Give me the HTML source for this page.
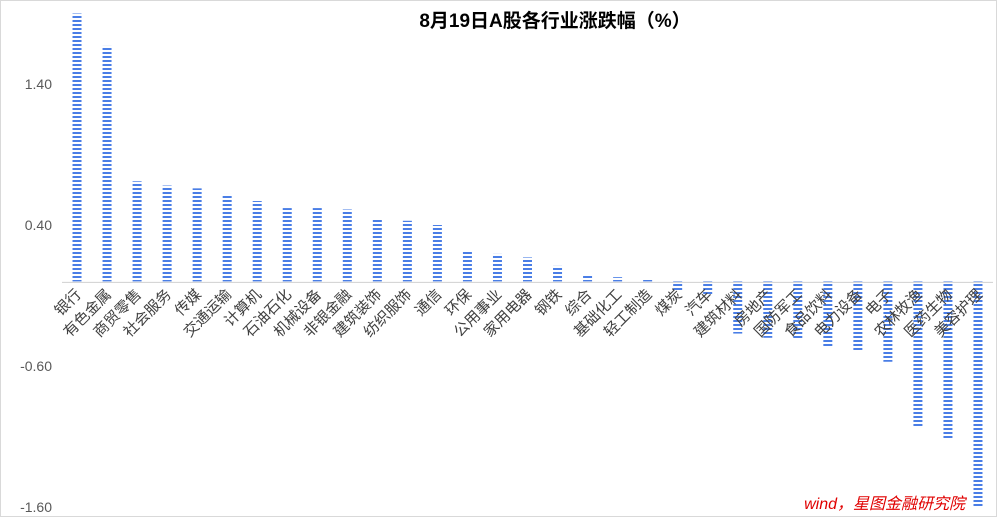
<!DOCTYPE html>
<html><head><meta charset="utf-8">
<style>
html,body{margin:0;padding:0;background:#fff;}
#wrap{position:relative;width:997px;height:517px;overflow:hidden;}
svg text{font-family:"Liberation Sans","Noto Sans CJK SC",sans-serif;}
</style></head>
<body>
<div id="wrap">
<svg id="chart" width="997" height="517" xmlns="http://www.w3.org/2000/svg">
<defs>
<pattern id="stripe" width="10" height="4" patternUnits="userSpaceOnUse">
<rect x="0" y="0" width="10" height="2" fill="#4a7ee6"/>
</pattern>
</defs>
<rect x="0.5" y="0.5" width="996" height="516" fill="#fff" stroke="#d9d9d9"/>
<text x="555" y="27" text-anchor="middle" font-size="19" font-weight="bold" fill="#000">8月19日A股各行业涨跌幅（%）</text>
<g id="yaxis"></g>
<g id="bars"></g>
<g id="xlabels"></g>
<line id="baseline" stroke="#d0d0d0" stroke-width="1"/>
<text x="965" y="509" text-anchor="end" font-size="16" font-style="italic" fill="#e00000">wind，星图金融研究院</text>
</svg>
</div>
<script>
const categories=["银行","有色金属","商贸零售","社会服务","传媒","交通运输","计算机","石油石化","机械设备","非银金融","建筑装饰","纺织服饰","通信","环保","公用事业","家用电器","钢铁","综合","基础化工","轻工制造","煤炭","汽车","建筑材料","房地产","国防军工","食品饮料","电力设备","电子","农林牧渔","医药生物","美容护理"];
const values=[1.90,1.67,0.71,0.68,0.66,0.62,0.57,0.52,0.52,0.51,0.44,0.43,0.40,0.21,0.195,0.17,0.11,0.04,0.03,0.01,-0.07,-0.10,-0.37,-0.40,-0.41,-0.46,-0.49,-0.57,-1.03,-1.12,-1.60];
const yTicks=[1.40,0.40,-0.60,-1.60];
const tickLabels=["1.40","0.40","-0.60","-1.60"];

const NS="http://www.w3.org/2000/svg";
const y=v=>281.4-v*141;
const x0=62,x1=993,step=(x1-x0)/categories.length;
const xc=i=>x0+step*(i+0.5);
const ya=document.getElementById('yaxis');
yTicks.forEach((t,i)=>{
  const tx=document.createElementNS(NS,'text');
  tx.setAttribute('x',52);tx.setAttribute('y',y(t)+5);
  tx.setAttribute('text-anchor','end');tx.setAttribute('font-size','14');tx.setAttribute('fill','#595959');
  tx.textContent=tickLabels[i];
  
  
  ya.appendChild(tx);
});
const bg=document.getElementById('bars'),lg=document.getElementById('xlabels');
values.forEach((v,i)=>{
  const r=document.createElementNS(NS,'rect');
  const w=9;
  r.setAttribute('x',xc(i)-w/2);
  r.setAttribute('y',Math.min(y(v),y(0)));
  r.setAttribute('width',w);
  r.setAttribute('height',Math.abs(y(v)-y(0)));
  r.setAttribute('fill','url(#stripe)');
  
  
  bg.appendChild(r);
  const t=document.createElementNS(NS,'text');
  const lx=xc(i)+5,ly=y(0)+14;
  t.setAttribute('x',lx);t.setAttribute('y',ly);
  t.setAttribute('text-anchor','end');t.setAttribute('font-size','15');t.setAttribute('fill','#404040');
  t.setAttribute('transform','rotate(-45 '+lx+' '+ly+')');
  t.textContent=categories[i];
  
  
  lg.appendChild(t);
});
const bl=document.getElementById('baseline');
bl.setAttribute('x1',x0);bl.setAttribute('x2',x1);
bl.setAttribute('y1',y(0)+1);bl.setAttribute('y2',y(0)+1);
</script>
</body></html>
